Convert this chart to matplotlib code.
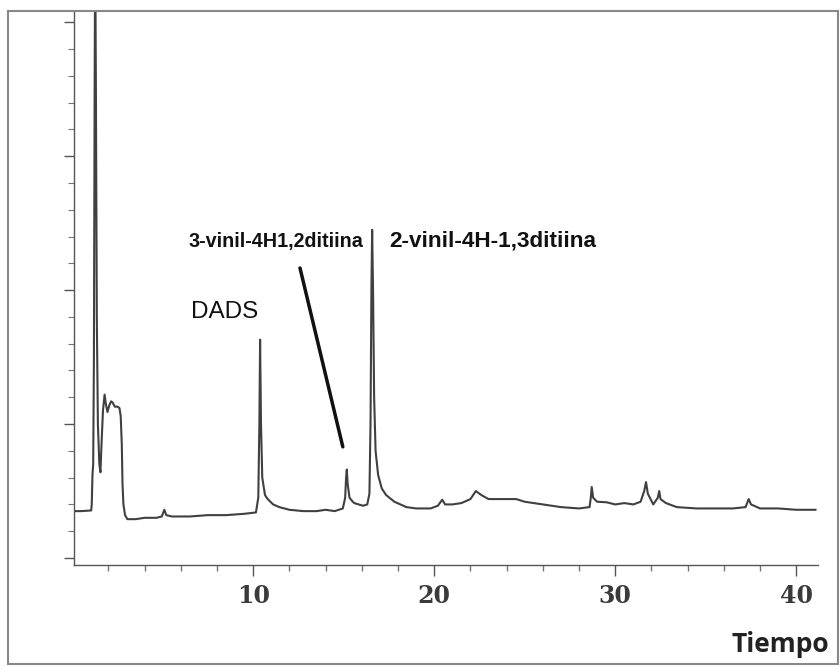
import matplotlib.pyplot as plt
from matplotlib.patches import Rectangle
from matplotlib.ticker import MultipleLocator, NullFormatter

# chromatogram (time, detector response in major-tick units)
tiempo = [0.06, 0.5, 1.05, 1.08, 1.12, 1.16, 1.20, 1.24, 1.27, 1.31, 1.36, 1.42,
          1.50, 1.56, 1.62, 1.70, 1.79, 1.86, 1.95, 2.05, 2.15, 2.24, 2.35, 2.50,
          2.61, 2.68, 2.74, 2.78, 2.83, 2.92, 3.05, 3.5, 4.0, 4.65, 4.95, 5.09,
          5.2, 5.5, 6.5, 7.5, 8.5, 9.5, 10.15, 10.28, 10.34, 10.38, 10.43, 10.5,
          10.65, 10.8, 11.1, 11.44, 12.0, 12.76, 13.5, 14.0, 14.5, 14.95, 15.08,
          15.13, 15.17, 15.22, 15.32, 15.5, 15.58, 16.07, 16.3, 16.42, 16.48,
          16.53, 16.57, 16.62, 16.68, 16.76, 16.9, 17.1, 17.34, 17.8, 18.46,
          19.0, 19.8, 20.2, 20.44, 20.6, 21.0, 21.5, 22.0, 22.3, 22.6, 23.0,
          23.6, 24.0, 24.53, 25.0, 26.0, 27.0, 28.0, 28.58, 28.65, 28.7, 28.78,
          29.0, 29.52, 30.0, 30.5, 31.0, 31.4, 31.6, 31.7, 31.8, 32.1, 32.35,
          32.43, 32.5, 32.8, 33.4, 34.5, 35.6, 36.5, 37.2, 37.37, 37.5, 38.0,
          39.0, 40.0, 41.06]
senal = [0.35, 0.35, 0.355, 0.40, 0.62, 0.70, 1.5, 3.5, 4.6, 3.5, 1.8, 1.0,
         0.70, 0.64, 0.85, 1.10, 1.22, 1.15, 1.09, 1.14, 1.17, 1.16, 1.13, 1.13,
         1.12, 1.06, 0.85, 0.55, 0.40, 0.32, 0.29, 0.29, 0.30, 0.30, 0.31, 0.36,
         0.32, 0.31, 0.31, 0.32, 0.32, 0.33, 0.34, 0.45, 1.0, 1.63, 1.0, 0.6,
         0.47, 0.44, 0.40, 0.38, 0.36, 0.35, 0.35, 0.36, 0.35, 0.37, 0.45,
         0.60, 0.66, 0.55, 0.45, 0.42, 0.41, 0.39, 0.40, 0.48, 1.0,
         2.0, 2.45, 2.0, 1.2, 0.8, 0.62, 0.52, 0.47, 0.42, 0.38,
         0.37, 0.37, 0.39, 0.435, 0.40, 0.40, 0.41, 0.44, 0.50, 0.47, 0.44,
         0.44, 0.44, 0.44, 0.42, 0.40, 0.38, 0.37, 0.38, 0.45, 0.53, 0.45,
         0.42, 0.416, 0.40, 0.41, 0.40, 0.42, 0.50, 0.567, 0.48, 0.40, 0.45,
         0.50, 0.44, 0.41, 0.38, 0.37, 0.37, 0.37, 0.38, 0.44, 0.40, 0.37,
         0.37, 0.36, 0.36]

x_ticks = [10, 20, 30, 40]
etiquetas = ["DADS", "3-vinil-4H1,2ditiina", "2-vinil-4H-1,3ditiina"]
pico_3vinil = (14.95, 0.83)

fig = plt.figure(figsize=(8.4, 6.66), dpi=100)
ax = fig.add_axes([0.0881, 0.1517, 0.8857, 0.830])

ax.plot(tiempo, senal, color="#404040", lw=1.5, solid_joinstyle="round")

ax.set_xlim(0.1, 41.2)
ax.set_ylim(-0.052, 4.075)

for s in ["top", "right"]:
    ax.spines[s].set_visible(False)
for s in ["left", "bottom"]:
    ax.spines[s].set_color("#555555")
    ax.spines[s].set_linewidth(1.0)

ax.set_xticks(x_ticks)
ax.set_xticklabels([str(t) for t in x_ticks], fontfamily="DejaVu Serif",
                   fontweight="bold", fontsize=17, color="#3a3a3a")
ax.xaxis.set_minor_locator(MultipleLocator(2))
ax.yaxis.set_major_locator(MultipleLocator(1))
ax.yaxis.set_minor_locator(MultipleLocator(0.2))
ax.yaxis.set_major_formatter(NullFormatter())
ax.tick_params(axis="x", which="major", length=8, width=1, color="#555555", pad=6)
ax.tick_params(axis="x", which="minor", length=4, width=1, color="#777777")
ax.tick_params(axis="y", which="major", length=7, width=1, color="#555555")
ax.tick_params(axis="y", which="minor", length=4, width=0.8, color="#777777")

# peak labels
fig.text(191 / 840, 1 - 312 / 666, etiquetas[0], fontfamily="Liberation Sans",
         fontsize=17.5, ha="left", va="center", color="#111111")
fig.text(188 / 840, 1 - 241 / 666, etiquetas[1], fontfamily="Liberation Sans",
         fontweight="bold", fontsize=14.2, ha="left", va="center", color="#111111")
fig.text(389 / 840, 1 - 241 / 666, etiquetas[2], fontfamily="Liberation Sans",
         fontweight="bold", fontsize=16.2, ha="left", va="center", color="#111111")
ax.annotate("", xy=pico_3vinil, xycoords="data",
            xytext=(300 / 840, 1 - 268 / 666), textcoords="figure fraction",
            arrowprops=dict(arrowstyle="-", lw=2.5, color="#111111",
                            shrinkA=0, shrinkB=0))

fig.text(829 / 840, 1 - 645 / 666, "Tiempo", fontfamily="Open Sans",
         fontweight="bold", fontsize=19, ha="right", va="center", color="#222222")

# scan frame
fig.patches.append(Rectangle((8 / 840, 2 / 666), 830 / 840, 653 / 666,
                             transform=fig.transFigure, fill=False,
                             edgecolor="#888888", lw=1.5))

fig.savefig("out.png", dpi=100)
